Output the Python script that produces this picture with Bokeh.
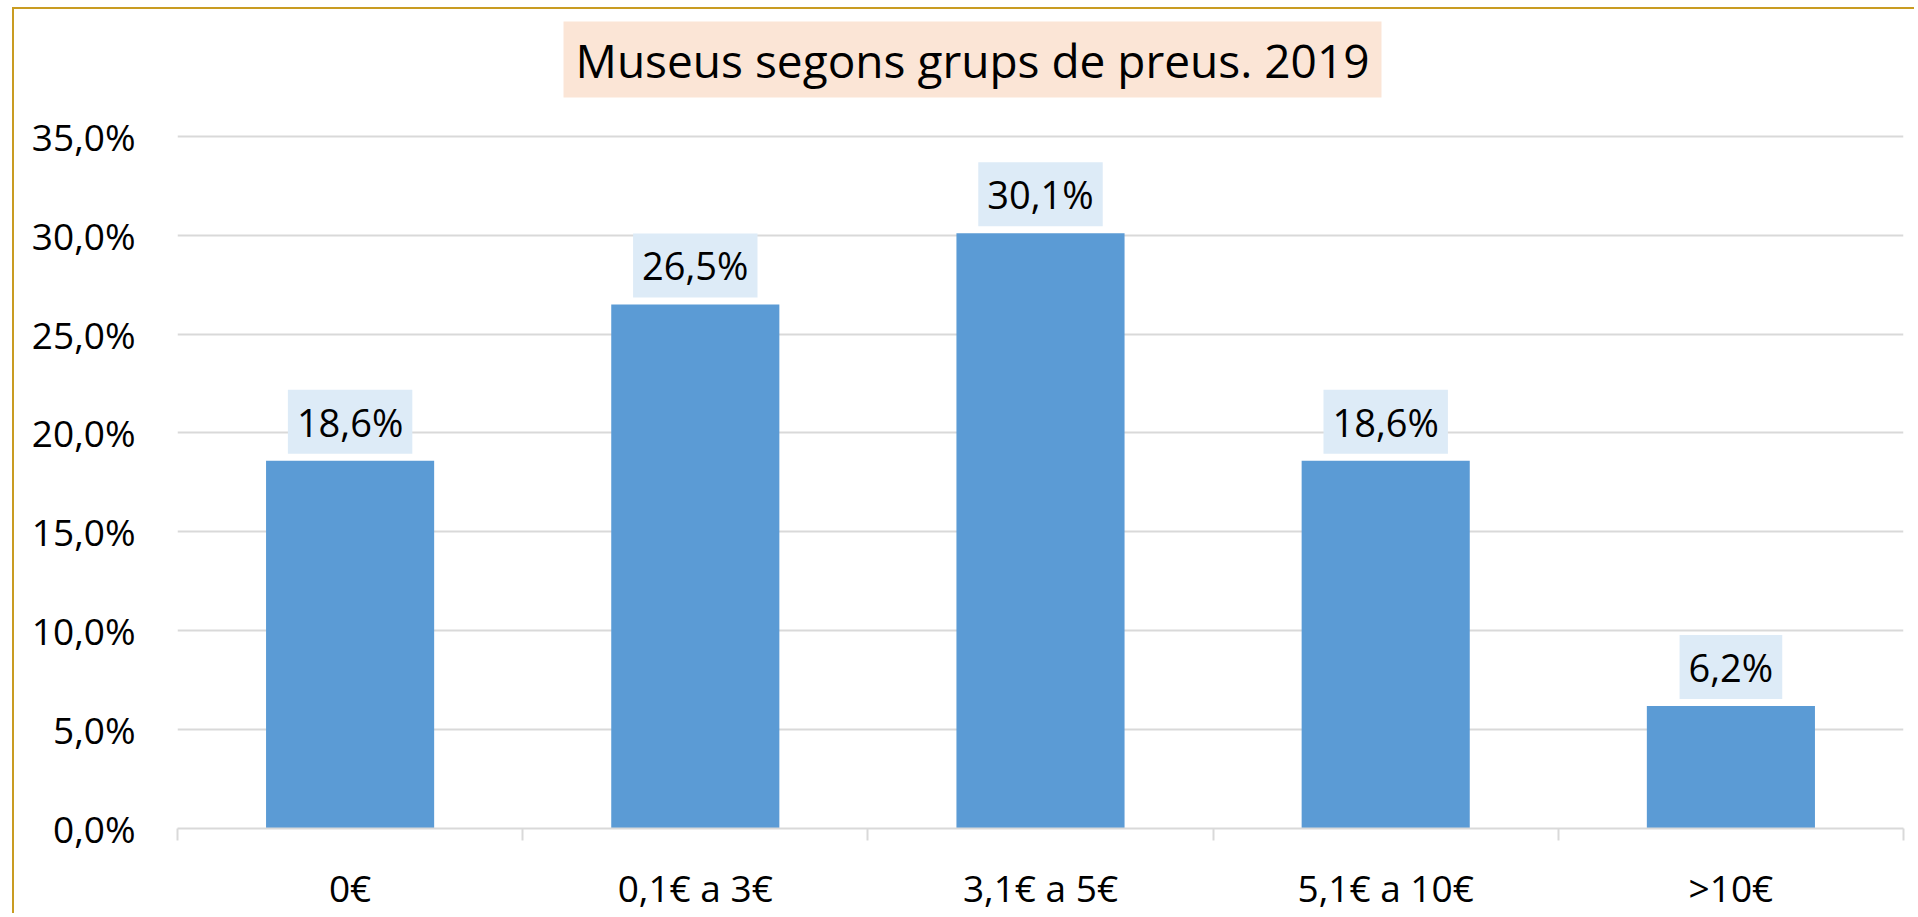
from bokeh.plotting import figure
from bokeh.models import Range1d, FixedTicker, Label, ColumnDataSource
from bokeh.embed import file_html
from bokeh.resources import INLINE

# ---- data ----
categories = ["0€", "0,1€ a 3€", "3,1€ a 5€", "5,1€ a 10€", ">10€"]
values = [18.6, 26.5, 30.1, 18.6, 6.2]
value_labels = ["18,6%", "26,5%", "30,1%", "18,6%", "6,2%"]
y_ticks = [0, 5, 10, 15, 20, 25, 30, 35]
y_tick_labels = ["0,0%", "5,0%", "10,0%", "15,0%", "20,0%", "25,0%", "30,0%", "35,0%"]
title_text = "Museus segons grups de preus. 2019"

FONT = "Open Sans"
BAR = "#5B9BD5"
GRID = "#D9D9D9"

xs = list(range(1, len(categories) + 1))
boundaries = [x - 0.5 for x in xs] + [xs[-1] + 0.5]
src = ColumnDataSource(dict(x=xs, top=values, cat=categories, lab=value_labels))

# frame spans the full canvas height above the axis so the title can sit inside it
p = figure(width=1902, height=906,
           x_range=Range1d(0.5, len(categories) + 0.5),
           y_range=Range1d(0, 35 * 820 / 693),
           output_backend="svg", toolbar_location=None,
           min_border_left=163, min_border_right=13,
           min_border_top=0, min_border_bottom=86)
p.outline_line_color = None
p.background_fill_color = "white"
p.border_fill_color = "white"
p.styles = {"border-left": "2px solid #C99C22", "border-top": "2px solid #C99C22",
            "margin-left": "12px", "margin-top": "7px"}

p.vbar(x="x", top="top", width=0.487, source=src, fill_color=BAR, line_color=None)

# x axis
p.xaxis.ticker = FixedTicker(ticks=xs, minor_ticks=boundaries)
p.xaxis.major_label_overrides = {x: c for x, c in zip(xs, categories)}
p.xaxis.axis_line_color = GRID
p.xaxis.axis_line_width = 2
p.xaxis.major_tick_line_color = None
p.xaxis.major_tick_out = 0
p.xaxis.major_tick_in = 0
p.xaxis.minor_tick_line_color = GRID
p.xaxis.minor_tick_line_width = 2
p.xaxis.minor_tick_in = 0
p.xaxis.minor_tick_out = 12
p.xaxis.major_label_standoff = 21
p.xaxis.major_label_text_font = FONT
p.xaxis.major_label_text_font_size = "37px"
p.xaxis.major_label_text_color = "black"

# y axis
p.yaxis.ticker = FixedTicker(ticks=y_ticks)
p.yaxis.major_label_overrides = {t: l for t, l in zip(y_ticks, y_tick_labels)}
p.yaxis.axis_line_color = None
p.yaxis.major_tick_line_color = None
p.yaxis.minor_tick_line_color = None
p.yaxis.major_tick_out = 0
p.yaxis.major_tick_in = 0
p.yaxis.major_label_standoff = 42
p.yaxis.major_label_text_font = FONT
p.yaxis.major_label_text_font_size = "37px"
p.yaxis.major_label_text_color = "black"

p.xgrid.grid_line_color = None
p.ygrid.grid_line_color = GRID
p.ygrid.grid_line_width = 2

# data labels
for x, v, t in zip(xs, values, value_labels):
    p.add_layout(Label(x=x, y=v, text=t, text_align="center", text_baseline="middle",
                       y_offset=39, text_font=FONT, text_font_size="38px",
                       text_color="black", background_fill_color="#DDEBF7",
                       padding=dict(left=9, right=9, top=6, bottom=6)))

# title (screen units relative to the frame)
p.add_layout(Label(x=795, y=769, x_units="screen", y_units="screen", text=title_text,
                   text_align="center", text_baseline="middle", text_font=FONT,
                   text_font_size="46px", text_color="black",
                   background_fill_color="#FBE5D6",
                   padding=dict(left=12, right=12, top=7, bottom=7)))

open("out.html", "w").write(file_html(p, INLINE))
